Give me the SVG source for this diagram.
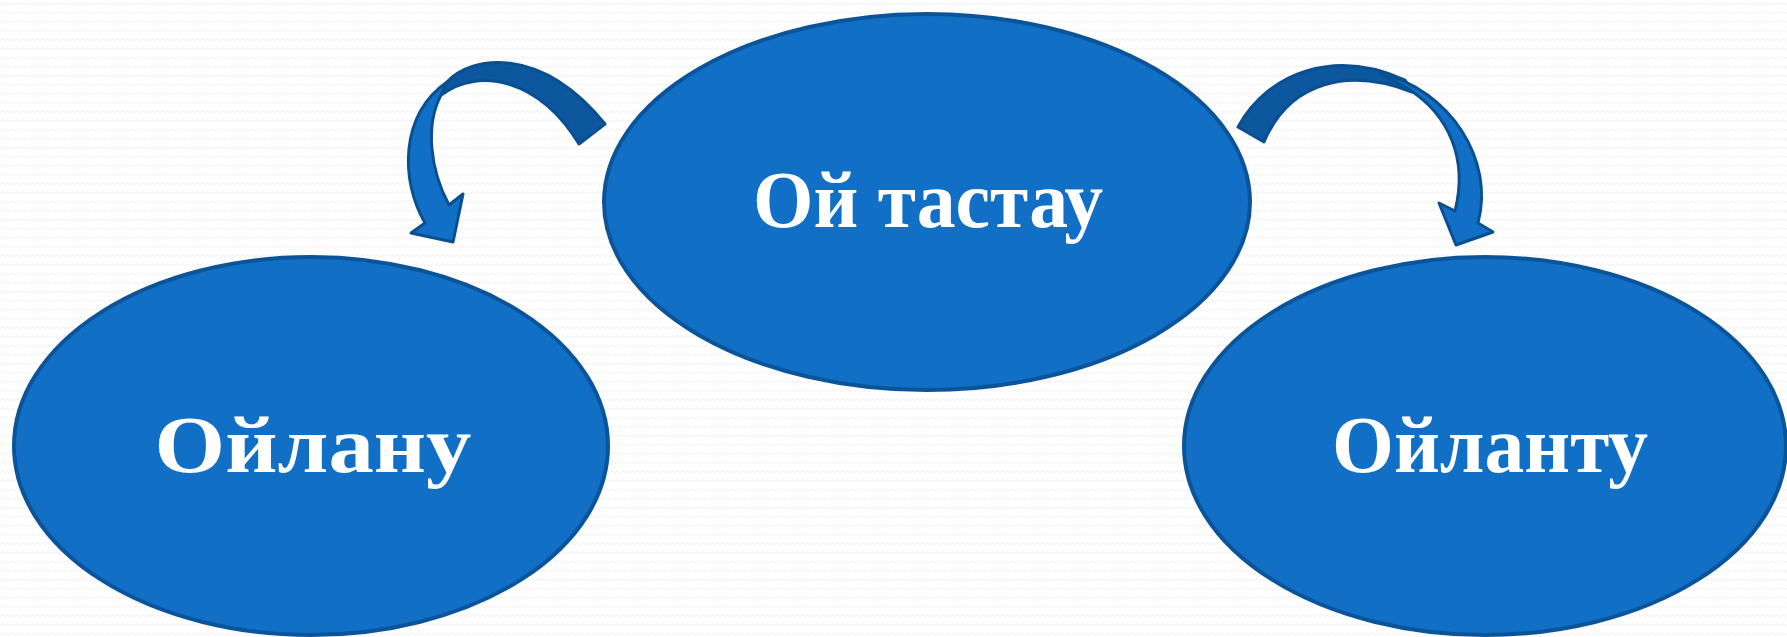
<svg xmlns="http://www.w3.org/2000/svg" width="1787" height="637" viewBox="0 0 1787 637">
<style>
.node{fill:#1170C6;stroke:#0B549A;stroke-width:4}
.lbl{fill:#ffffff;font-family:"Liberation Serif","DejaVu Serif",serif;font-weight:bold;font-size:80px;text-anchor:middle}
.back{fill:#0C579E;stroke:#0A4F8F;stroke-width:3;stroke-linejoin:round}
.front{fill:#1170C6;stroke:#0A4F8F;stroke-width:3;stroke-linejoin:round}
</style>
<defs>
<pattern id="zz" width="10" height="9" patternUnits="userSpaceOnUse">
<path d="M0,5 L2.5,2.5 L5,5 L7.5,2.5 L10,5" fill="none" stroke="#f5f5f5" stroke-width="1.2"/>
</pattern>
</defs>
<rect width="1787" height="637" fill="#ffffff"/>
<rect width="1787" height="637" fill="url(#zz)"/>
<g id="connectors">
<g id="arrow-left">
<path class="back" d="M447,82 C470,56 540,44 605,124 L579,144 C540,80 480,66 441,95 Z"/>
<path class="front" d="M447,82 C400,115 400,180 425,223 L411,233 L453,242 L463,194 L449,205 C430,170 425,125 441,95 Z"/>
</g>
<g id="arrow-right">
<path class="back" d="M1238,127 C1268,72 1335,48 1405,80 L1412,92 C1350,68 1290,80 1264,142 Z"/>
<path class="front" d="M1380,73 C1450,90 1495,160 1478,223 L1493,232 L1456,245 L1439,203 L1455,211 C1468,160 1450,115 1407,88 Z"/>
</g>
</g>
<g id="node-center">
<ellipse class="node" cx="927" cy="202" rx="323" ry="188"/>
<text class="lbl" x="928" y="227" textLength="350" lengthAdjust="spacingAndGlyphs">Ой тастау</text>
</g>
<g id="node-left">
<ellipse class="node" cx="311" cy="446" rx="297" ry="189"/>
<text class="lbl" x="313" y="472" textLength="317" lengthAdjust="spacingAndGlyphs">Ойлану</text>
</g>
<g id="node-right">
<ellipse class="node" cx="1485" cy="446" rx="301" ry="189"/>
<text class="lbl" x="1490" y="472" textLength="316" lengthAdjust="spacingAndGlyphs">Ойланту</text>
</g>
</svg>
